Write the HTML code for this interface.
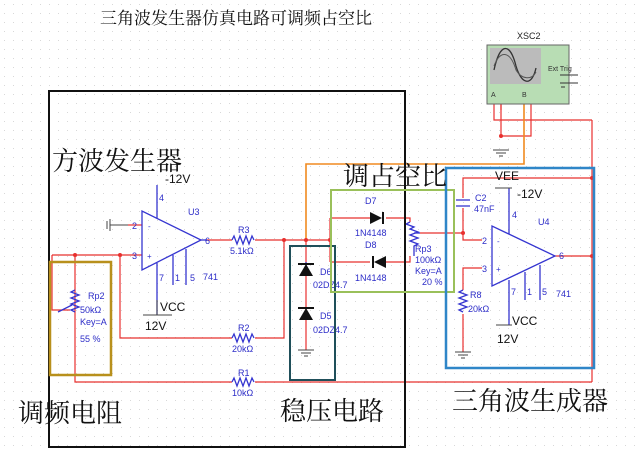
<!DOCTYPE html>
<html><head><meta charset="utf-8"><style>
html,body{margin:0;padding:0;background:#fff;}
svg{display:block;}
.cn{font-family:"Liberation Serif","Noto Serif CJK SC","Noto Sans CJK SC",serif;fill:#111;}
.lb{font-family:"Liberation Sans",sans-serif;font-size:9px;fill:#2d2dc8;}
.bk{font-family:"Liberation Sans",sans-serif;font-size:12px;fill:#111;}
</style></head><body>
<svg width="636" height="449" viewBox="0 0 636 449" xmlns="http://www.w3.org/2000/svg">
<defs><pattern id="g" width="9" height="9" patternUnits="userSpaceOnUse"><rect x="4" y="4" width="1" height="1" fill="#d8d8d8"/></pattern></defs>
<rect width="636" height="449" fill="url(#g)"/>
<text class="cn" x="100" y="24" font-size="17">三角波发生器仿真电路可调频占空比</text>

<!-- red wires -->
<g stroke="#e8302e" stroke-width="1.2" fill="none">
<polyline points="207,240 232,240"/><polyline points="255,240 330,240"/>
<polyline points="330,218 330,262"/><polyline points="330,218 370,218"/><polyline points="386,218 410,218 410,222"/>
<polyline points="330,262 370,262"/><polyline points="386,262 410,262 410,256"/>
<polyline points="420,233 463,233 463,240 482,240"/>
<polyline points="463,233 463,208"/><polyline points="463,198 463,178 592,178"/>
<polyline points="555,256 592,256"/><polyline points="592,120 592,382"/>
<polyline points="482,268 463,268 463,290"/><polyline points="463,314 463,352"/>
<polyline points="52,255 142,255"/><polyline points="52,255 52,310 70,310"/>
<polyline points="75,255 75,382 232,382"/><polyline points="255,382 592,382"/>
<polyline points="120,255 120,338 232,338"/><polyline points="255,338 284,338 284,240"/>
<polyline points="306,240 306,350"/>
<polyline points="128,225 142,225"/>
<polyline points="494,100 494,120 592,120"/>
<polyline points="501,100 501,136 531,136 531,100"/>
<polyline points="501,100 501,110"/>
</g>
<polyline points="306,240 306,164 524,164 524,98" stroke="#f08a20" stroke-width="1.6" fill="none"/>
<g fill="#e8302e"><circle cx="284" cy="240" r="2"/><circle cx="306" cy="240" r="2"/><circle cx="330" cy="240" r="2"/><circle cx="75" cy="255" r="2"/><circle cx="120" cy="255" r="2"/><circle cx="463" cy="233" r="2"/><circle cx="592" cy="178" r="2"/><circle cx="592" cy="256" r="2"/><circle cx="501" cy="136" r="2"/></g>

<!-- U3 -->
<g stroke="#3535d0" stroke-width="1.3" fill="none">
<polygon points="142,211 142,270 201,240"/>
<line x1="157" y1="185" x2="157" y2="218"/>
<line x1="157" y1="263" x2="157" y2="315"/><line x1="173" y1="255" x2="173" y2="285"/><line x1="186" y1="249" x2="186" y2="285"/>
<line x1="201" y1="240" x2="207" y2="240"/>
<path d="M232,240 l2,-4 l3,8 l3,-8 l3,8 l3,-8 l3,8 l3,-8 l2,4"/>
<path d="M232,338 l2,-4 l3,8 l3,-8 l3,8 l3,-8 l3,8 l3,-8 l2,4"/>
<path d="M232,382 l2,-4 l3,8 l3,-8 l3,8 l3,-8 l3,8 l3,-8 l2,4"/>
<path d="M75,290 l-4,2 l8,3 l-8,3 l8,3 l-8,3 l8,3 l-8,3 l4,2"/>
<line x1="58" y1="312" x2="72" y2="305"/>
<!-- U4 -->
<polygon points="492,226 492,286 555,256"/>
<line x1="509" y1="188" x2="509" y2="234"/>
<line x1="509" y1="280" x2="509" y2="325"/><line x1="525" y1="272" x2="525" y2="300"/><line x1="540" y1="265" x2="540" y2="300"/>
<path d="M463,290 l-4,2 l8,3 l-8,3 l8,3 l-8,3 l8,3 l-8,3 l4,2"/>
<path d="M410,222 l-4,2 l8,3 l-4,2 l8,3 l-8,3 l8,3 l-8,3 l8,3 l-4,2 l0,10"/>
<line x1="420" y1="233" x2="414" y2="233"/>
<line x1="456" y1="200" x2="470" y2="200"/><line x1="456" y1="206" x2="470" y2="206"/>
<line x1="306" y1="262" x2="306" y2="276"/>
</g>
<g fill="#111" stroke="none">
<polygon points="370,212 370,224 382,218"/><rect x="382" y="212" width="2" height="12"/>
<polygon points="386,256 386,268 374,262"/><rect x="372" y="256" width="2" height="12"/>
<polygon points="299,276 313,276 306,264"/><rect x="298" y="263" width="16" height="2"/>
<polygon points="299,320 313,320 306,308"/><rect x="298" y="307" width="16" height="2"/>
</g>
<g fill="#3535d0" font-family="Liberation Sans,sans-serif" font-size="8"><text x="148" y="229">-</text><text x="147" y="259">+</text><text x="497" y="244">-</text><text x="496" y="272">+</text></g>

<!-- grounds -->
<g stroke="#444" stroke-width="1" fill="none">
<line x1="110" y1="219" x2="110" y2="231"/><line x1="107" y1="221" x2="107" y2="229"/><line x1="110" y1="225" x2="128" y2="225"/>
<line x1="298" y1="350" x2="314" y2="350"/><line x1="301" y1="353" x2="311" y2="353"/><line x1="304" y1="356" x2="308" y2="356"/>
<line x1="455" y1="352" x2="471" y2="352"/><line x1="458" y1="355" x2="468" y2="355"/><line x1="461" y1="358" x2="465" y2="358"/>
<line x1="493" y1="150" x2="509" y2="150"/><line x1="496" y1="153" x2="506" y2="153"/><line x1="499" y1="156" x2="503" y2="156"/>
<line x1="143" y1="315" x2="172" y2="315"/><line x1="496" y1="325" x2="512" y2="325"/><line x1="495" y1="188" x2="512" y2="188"/>
</g>
<line x1="157" y1="300" x2="157" y2="315" stroke="#444"/>

<!-- labels -->
<g class="lb">
<text x="188" y="215">U3</text><text x="205" y="244">6</text><text x="132" y="229">2</text><text x="132" y="259">3</text><text x="159" y="201">4</text>
<text x="159" y="281">7</text><text x="175" y="281">1</text><text x="190" y="281">5</text><text x="203" y="280">741</text>
<text x="238" y="233">R3</text><text x="230" y="254">5.1kΩ</text>
<text x="238" y="331">R2</text><text x="232" y="352">20kΩ</text>
<text x="238" y="376">R1</text><text x="232" y="396">10kΩ</text>
<text x="88" y="299">Rp2</text><text x="80" y="313">50kΩ</text><text x="80" y="325">Key=A</text><text x="80" y="342">55 %</text>
<text x="320" y="275">D6</text><text x="313" y="288">02DZ4.7</text><text x="320" y="319">D5</text><text x="313" y="333">02DZ4.7</text>
<text x="365" y="204">D7</text><text x="355" y="236">1N4148</text><text x="365" y="248">D8</text><text x="355" y="281">1N4148</text>
<text x="415" y="252">Rp3</text><text x="415" y="263">100kΩ</text><text x="415" y="274">Key=A</text><text x="422" y="285">20 %</text>
<text x="475" y="201">C2</text><text x="474" y="212">47nF</text><text x="538" y="225">U4</text><text x="512" y="218">4</text>
<text x="559" y="259">6</text><text x="482" y="244">2</text><text x="482" y="272">3</text>
<text x="511" y="295">7</text><text x="527" y="295">1</text><text x="542" y="295">5</text><text x="556" y="297">741</text>
<text x="470" y="298">R8</text><text x="468" y="312">20kΩ</text>
</g>
<g class="bk">
<text x="165" y="183">-12V</text><text x="160" y="311">VCC</text><text x="145" y="330">12V</text>
<text x="495" y="180">VEE</text><text x="517" y="198">-12V</text><text x="512" y="325">VCC</text><text x="497" y="343">12V</text>
</g>

<!-- scope -->
<text x="517" y="39" font-family="Liberation Sans,sans-serif" font-size="9" fill="#222">XSC2</text>
<rect x="487" y="45" width="82" height="59" fill="#b8ddb4" stroke="#666"/>
<rect x="490" y="48" width="51" height="36" fill="#bbb"/>
<path d="M494,70 C500,42 510,42 516,66 C522,86 532,86 536,68" stroke="#333" fill="none" stroke-width="1.3"/>
<path d="M494,66 C500,50 510,50 516,70 C522,80 532,80 536,72" stroke="#555" fill="none"/>
<text x="548" y="71" font-family="Liberation Sans,sans-serif" font-size="7" fill="#333">Ext Trig</text>
<text x="491" y="97" font-family="Liberation Sans,sans-serif" font-size="7" fill="#333">A</text><text x="522" y="97" font-family="Liberation Sans,sans-serif" font-size="7" fill="#333">B</text>
<path d="M560,75 h18 M560,83 h18 M565,87 h-4" stroke="#333" fill="none"/>

<!-- boxes -->
<rect x="49" y="91" width="356" height="356" fill="none" stroke="#111" stroke-width="2"/>
<rect x="50" y="262" width="61" height="113" fill="none" stroke="#b8901c" stroke-width="2.5"/>
<rect x="290" y="246" width="45" height="134" fill="none" stroke="#1f4f5a" stroke-width="2"/>
<rect x="331" y="190" width="123" height="102" fill="none" stroke="#9ac05a" stroke-width="2"/>
<rect x="446" y="168" width="148" height="200" fill="none" stroke="#2f86c8" stroke-width="2.5"/>

<text class="cn" x="52" y="170" font-size="26">方波发生器</text>
<text class="cn" x="343" y="185" font-size="26">调占空比</text>
<text class="cn" x="18" y="422" font-size="26">调频电阻</text>
<text class="cn" x="280" y="420" font-size="26">稳压电路</text>
<text class="cn" x="452" y="410" font-size="26">三角波生成器</text>
</svg>
</body></html>
